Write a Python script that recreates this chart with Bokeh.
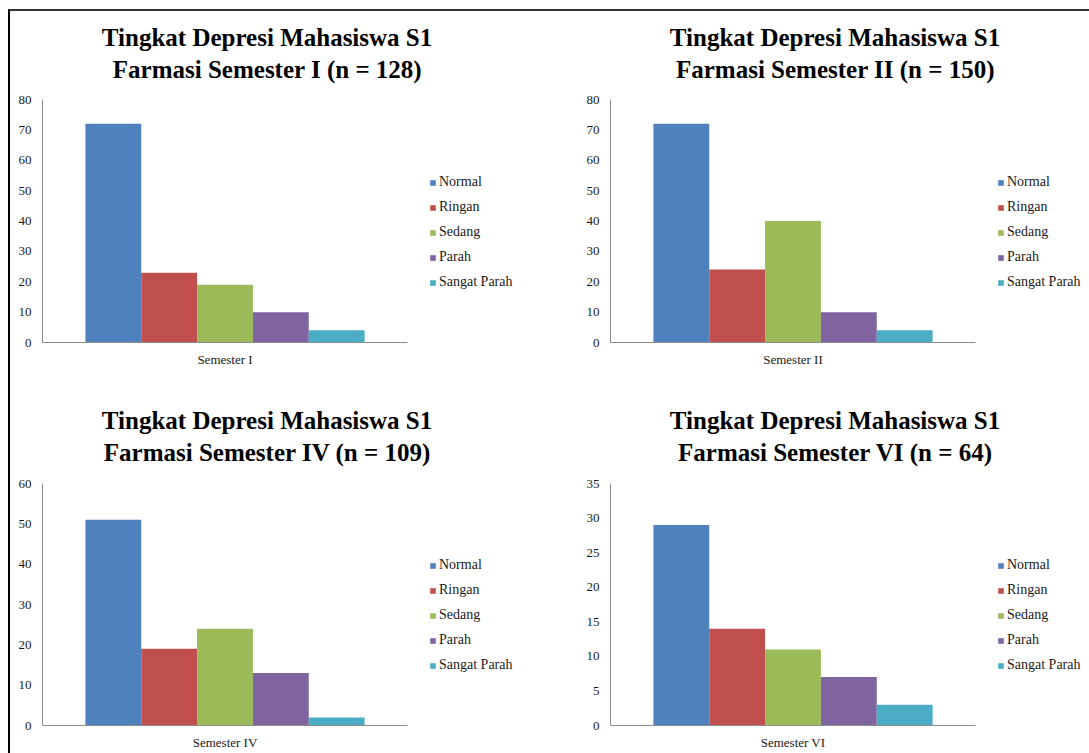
from bokeh.plotting import figure
from bokeh.models import (Range1d, ColumnDataSource, Legend, LegendItem, Title, FixedTicker)
from bokeh.layouts import row, column
from bokeh.embed import file_html
from bokeh.resources import INLINE

# ---------------- data ----------------
levels = ["Normal", "Ringan", "Sedang", "Parah", "Sangat Parah"]
semesters = ["Semester I", "Semester II", "Semester IV", "Semester VI"]
sample_sizes = [128, 150, 109, 64]
romans = ["I", "II", "IV", "VI"]
sem1_values = [72, 23, 19, 10, 4]
sem2_values = [72, 24, 40, 10, 4]
sem4_values = [51, 19, 24, 13, 2]
sem6_values = [29, 14, 11, 7, 3]
y_max = [80, 80, 60, 35]
y_step = [10, 10, 10, 5]

colors = ["#4F81BD", "#C0504D", "#9BBB59", "#8064A2", "#4BACC6"]
SERIF = "Liberation Serif"
BAR_W = 0.153          # bar width as a fraction of the category band
BAND_PX = 365          # pixel width of the plotted category band (axis length)
TITLE_PX = 25

# approximate advance widths (em/1000) of Liberation Serif Bold, used to centre titles
_W = {" ": 250, "(": 333, ")": 333, "=": 570, "F": 611, "I": 389, "S": 556, "T": 667,
      "D": 722, "M": 944, "V": 722, "a": 500, "e": 444, "g": 500, "h": 556, "i": 278,
      "k": 556, "m": 833, "n": 556, "p": 556, "r": 444, "s": 389, "t": 333, "w": 722}


def text_width(s, px):
    return sum(_W.get(c, 500) for c in s) / 1000.0 * px


def make_chart(semester, vals, n, roman, ymax, step, w, h, mleft, mtop, mbottom,
               st2, st1):
    frame_w = w - mleft
    p = figure(width=w, height=h, output_backend="svg", toolbar_location=None, title=None,
               x_range=Range1d(0, frame_w / BAND_PX),
               y_range=Range1d(0, ymax),
               min_border_left=mleft, min_border_right=0,
               min_border_top=mtop, min_border_bottom=mbottom)
    p.background_fill_color = "white"
    p.border_fill_color = "white"
    p.outline_line_color = None
    p.xgrid.visible = False
    p.ygrid.visible = False

    cat_center = 0 + 0.5   # first (only) category band is [0, 1]
    items = []
    for i, (lvl, v) in enumerate(zip(levels, vals)):
        src = ColumnDataSource(dict(x=[cat_center + (i - 2) * BAR_W], top=[v]))
        r = p.vbar(x="x", top="top", width=BAR_W, source=src,
                   fill_color=colors[i], line_color=None)
        items.append(LegendItem(label=lvl, renderers=[r]))

    p.yaxis.ticker = FixedTicker(ticks=list(range(0, ymax + 1, step)))
    p.xaxis.ticker = FixedTicker(ticks=[cat_center])
    p.xaxis.major_label_overrides = {cat_center: semester}
    p.xaxis.bounds = (0, 1)
    for ax in (p.xaxis[0], p.yaxis[0]):
        ax.axis_line_color = "#8c8c8c"
        ax.axis_line_width = 1
        ax.major_tick_line_color = None
        ax.minor_tick_line_color = None
        ax.major_tick_out = 0
        ax.major_tick_in = 0
        ax.major_label_text_font = SERIF
        ax.major_label_text_color = "#1a1a1a"
    p.yaxis.major_label_text_font_size = "13px"
    p.yaxis.major_label_standoff = 11
    p.xaxis.major_label_text_font_size = "13px"
    p.xaxis.major_label_standoff = 9

    legend = Legend(items=items, location=(387, 50), orientation="vertical",
                    glyph_width=7, glyph_height=7, label_standoff=3,
                    label_height=20, spacing=5, padding=0, margin=0,
                    border_line_color=None, background_fill_alpha=0,
                    label_text_font=SERIF, label_text_font_size="14px",
                    label_text_color="#1a1a1a")
    p.add_layout(legend)

    t1 = "Tingkat Depresi Mahasiswa S1"
    t2 = "Farmasi Semester %s (n = %d)" % (roman, n)
    # nearest to the frame first
    for txt, st in ((t2, st2), (t1, st1)):
        off = 225 - text_width(txt, TITLE_PX) / 2.0
        p.add_layout(Title(text=txt, align="left", offset=off, standoff=st,
                           text_font=SERIF, text_font_style="bold",
                           text_font_size="%dpx" % TITLE_PX, text_color="black"), "above")
    return p


p1 = make_chart(semesters[0], sem1_values, sample_sizes[0], romans[0], y_max[0], y_step[0],
                555, 367, 32, 88, 36, 34, -28)
p2 = make_chart(semesters[1], sem2_values, sample_sizes[1], romans[1], y_max[1], y_step[1],
                524, 367, 45, 88, 36, 34, -28)
p3 = make_chart(semesters[2], sem4_values, sample_sizes[2], romans[2], y_max[2], y_step[2],
                555, 375, 32, 105, 28, 36, -30)
p4 = make_chart(semesters[3], sem6_values, sample_sizes[3], romans[3], y_max[3], y_step[3],
                524, 375, 45, 105, 28, 36, -30)

layout = column(row(p1, p2), row(p3, p4), margin=(9, 0, 0, 8),
                styles={"border-top": "2px solid #333333", "border-left": "2px solid #000000"})

open("out.html", "w").write(file_html(layout, INLINE))
